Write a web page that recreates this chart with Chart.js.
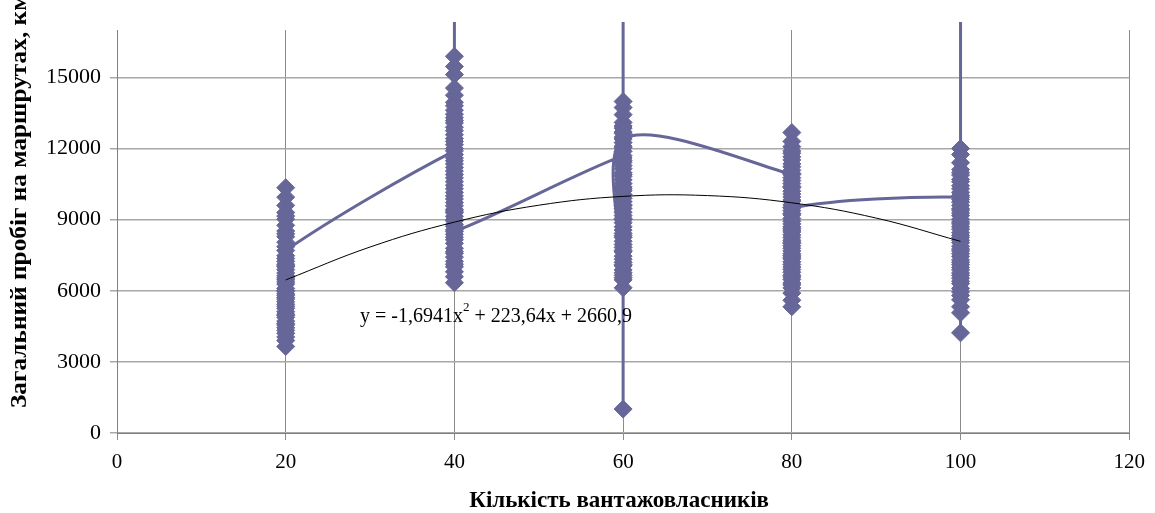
<!DOCTYPE html>
<html>
<head>
<meta charset="utf-8">
<script src="https://cdn.jsdelivr.net/npm/chart.js@4"></script>
<style>
  body { margin: 0; background: #fff; }
  #wrap { width: 1155px; height: 513px; }
</style>
</head>
<body>
<div id="wrap"><canvas id="mileageChart" width="1155" height="513"></canvas></div>
<script>
// number of cargo owners (x) and the route mileage readings for each group, in line order
const ownerCounts = [20, 40, 60, 80, 100];

const mileage20 = [6100, 5350, 4720, 6890, 5980, 4330, 7240, 6460, 5120, 4050, 3900, 3650, 4880, 5720, 6630,
  7480, 8050, 8280, 8520, 8760, 9020, 9300, 9600, 9950, 10350, 9150, 8400, 7860, 7050, 6280, 5540, 4560,
  4210, 5010, 5870, 6750, 7360, 6010, 5260, 4440, 4960, 5650, 6370, 7120, 6540, 5430, 4620, 5810, 7010, 7700];

const mileage40 = [11900, 11350, 10760, 10150, 9580, 12420, 13080, 13620, 14250, 15120, 15890, 15460, 14550,
  13950, 13300, 12750, 12160, 11600, 11050, 10450, 9870, 9290, 8720, 8150, 7580, 7010, 6590, 6340, 6800,
  7240, 7790, 8380, 8950, 9430, 10000, 10600, 11200, 11750, 12300, 12900, 13450, 13800, 24000, 13180, 12580,
  12000, 11480, 10900, 10300, 9720, 9140, 8570, 8000, 7420, 7120, 7650, 8260, 8800, 9360, 9000, 8500];

const mileage60 = [11700, 11150, 10520, 9900, 9310, 8700, 8090, 7460, 6880, 6460, 6125, 1010, 6650, 7200,
  7830, 8420, 9050, 9620, 10220, 10830, 11420, 12030, 12640, 13100, 13430, 13730, 13985, 24000, 12860,
  12250, 11600, 10980, 10380, 9760, 9170, 8560, 7950, 7330, 6760, 7050, 7640, 8250, 8870, 9470, 10060,
  10680, 11280, 11880, 12480, 12950, 12700, 12100, 11500, 10900, 10300, 9600, 9000, 8320, 7700, 7100,
  6550, 12400];

const mileage80 = [10900, 10350, 9780, 9200, 8630, 8050, 7480, 6900, 6330, 5900, 5600, 5325, 6120, 6650,
  7220, 7790, 8360, 8930, 9500, 10080, 10650, 11230, 11800, 12300, 12675, 12080, 11520, 10950, 10400,
  9830, 9260, 8700, 8130, 7560, 7000, 6480, 6250, 6780, 7350, 7900, 8480, 9050, 9620, 10200, 10770,
  11350, 11900, 11650, 11080, 10520, 9960, 9380, 8820, 8250, 7680, 7110, 6580, 7420, 8000, 8560, 9500];

const mileage100 = [9950, 9400, 8820, 8250, 7680, 7100, 6530, 5950, 5620, 5325, 5070, 4225, 5800, 6300,
  6880, 7450, 8030, 8600, 9170, 9740, 10300, 10880, 11110, 11400, 11745, 12000, 10600, 10020, 9460, 8900,
  8330, 7760, 7200, 6650, 6100, 6400, 6980, 7560, 8130, 8700, 9280, 9850, 10430, 10980, 10700, 10150,
  9600, 9020, 8450, 7880, 7300, 6750, 24000];

// polynomial trend line
const trendX = [20, 30, 40, 50, 60, 70, 80, 90, 100];
const trendY = [6457, 7845, 8896, 9608, 9981, 10015, 9710, 9066, 8084];

const yTicks = [0, 3000, 6000, 9000, 12000, 15000];
const xTicks = [0, 20, 40, 60, 80, 100, 120];

const equationText = ['y = -1,6941x', '2', ' + 223,64x + 2660,9'];
const xTitle = 'Кількість вантажовласників';
const yTitle = 'Загальний пробіг на маршрутах, км';

const mileageGroups = [mileage20, mileage40, mileage60, mileage80, mileage100];
const scatterPoints = [];
mileageGroups.forEach((ys, i) => ys.forEach(v => scatterPoints.push({ x: ownerCounts[i], y: v })));
const trendPoints = trendX.map((x, i) => ({ x: x, y: trendY[i] }));

const serif = '"Liberation Serif", "Times New Roman", serif';
const blue = '#666699';

const chartText = {
    id: 'chartText',
    afterDatasetsDraw(chart) {
        const { ctx, scales: { x, y } } = chart;
        ctx.save();
        ctx.fillStyle = '#000';
        ctx.textBaseline = 'alphabetic';
        ctx.textAlign = 'left';
        // trend equation
        let cx = x.getPixelForValue(28.8);
        const cy = y.getPixelForValue(4700);
        ctx.font = '20px ' + serif;
        ctx.fillText(equationText[0], cx, cy);
        cx += ctx.measureText(equationText[0]).width;
        ctx.font = '13px ' + serif;
        ctx.fillText(equationText[1], cx, cy - 11);
        cx += ctx.measureText(equationText[1]).width;
        ctx.font = '20px ' + serif;
        ctx.fillText(equationText[2], cx, cy);

        // axis titles
        ctx.font = 'bold 23px ' + serif;
        ctx.textAlign = 'center';
        ctx.fillText(xTitle, (chart.chartArea.left + chart.chartArea.right) / 2 - 4, 507);
        ctx.translate(26, 408);
        ctx.rotate(-Math.PI / 2);
        ctx.scale(1.1, 1);
        ctx.textAlign = 'left';
        ctx.fillText(yTitle, 0, 0);
        ctx.restore();
    }
};

const ctx = document.getElementById('mileageChart').getContext('2d');
new Chart(ctx, {
    type: 'scatter',
    data: {
        datasets: [{
            label: 'Тренд',
            data: trendPoints,
            showLine: true,
            borderColor: '#000',
            borderWidth: 1,
            pointRadius: 0,
            tension: 0.4,
            order: 0
        }, {
            label: 'Пробіг',
            data: scatterPoints,
            showLine: true,
            borderColor: blue,
            borderWidth: 3,
            backgroundColor: blue,
            pointStyle: 'rectRot',
            pointRadius: 9,
            pointBorderWidth: 1,
            pointBorderColor: blue,
            pointBackgroundColor: blue,
            tension: 0.3,
            clip: { left: 0, top: 8, right: 0, bottom: 0 },
            order: 1
        }]
    },
    options: {
        responsive: false,
        devicePixelRatio: 1,
        animation: false,
        layout: { padding: { top: 30, right: 22, left: 0, bottom: 0 } },
        plugins: {
            legend: { display: false },
            tooltip: { enabled: false }
        },
        scales: {
            x: {
                type: 'linear',
                min: 0,
                max: 120,
                afterFit: s => { s.height = 80; },
                afterBuildTicks: s => { s.ticks = xTicks.map(v => ({ value: v })); },
                ticks: { color: '#000', padding: 10, font: { family: serif, size: 21 }, callback: v => String(v) },
                grid: { color: '#8c8c8c', lineWidth: 1, tickLength: 7 },
                border: { color: '#808080', width: 1 }
            },
            y: {
                type: 'linear',
                min: 0,
                max: 17000,
                afterFit: s => { s.width = 117; },
                afterBuildTicks: s => { s.ticks = yTicks.map(v => ({ value: v })); },
                ticks: {
                    color: '#000',
                    padding: 9,
                    font: { family: serif, size: 22 },
                    callback: v => String(v)
                },
                grid: { color: '#a8a8a8', lineWidth: 1.5, tickLength: 7 },
                border: { color: '#808080', width: 1 }
            }
        }
    },
    plugins: [chartText]
});
</script>
</body>
</html>
